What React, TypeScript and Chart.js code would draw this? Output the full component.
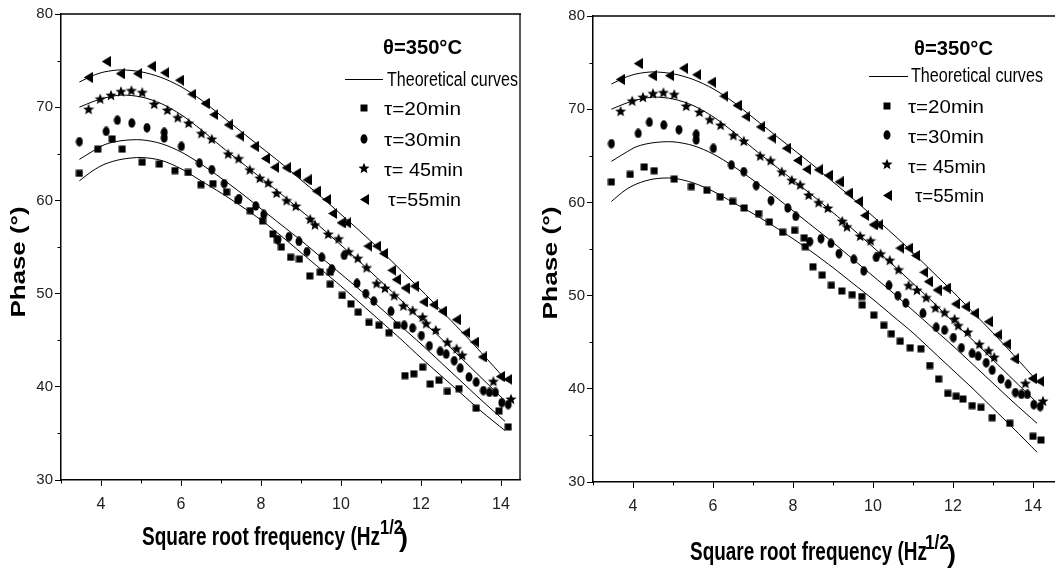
import React, { useEffect, useRef } from 'react';
import { Chart, registerables } from 'chart.js';

Chart.register(...registerables);

// ---------- data ----------
const X_TICKS = [4, 6, 8, 10, 12, 14];
const X_MINOR = [3, 5, 7, 9, 11, 13];
const Y_TICKS = [30, 40, 50, 60, 70, 80];
const Y_MINOR = [35, 45, 55, 65, 75];

const SERIES_LABELS = ['τ=20min', 'τ=30min', 'τ= 45min', 'τ=55min'];
const TEMP_LABEL = 'θ=350°C';
const CURVE_LABEL = 'Theoretical curves';
const X_TITLE = 'Square root frequency (Hz';
const X_TITLE_SUP = '1/2';
const Y_TITLE = 'Phase (°)';

const TAU20_LEFT = [[3.46,62.9],[3.92,65.5],[4.28,66.6],[4.53,65.5],[5.03,64.1],[5.46,63.9],[5.85,63.2],[6.18,63.0],[6.5,61.7],[6.8,61.8],[7.14,60.9],[7.42,60.0],[7.73,58.9],[8.04,57.8],[8.3,56.4],[8.41,55.8],[8.51,55.0],[8.74,53.9],[8.96,53.7],[9.22,51.9],[9.48,52.3],[9.73,52.3],[9.73,51.0],[10.03,49.8],[10.25,48.9],[10.43,48.0],[10.7,46.9],[10.95,46.6],[11.2,45.8],[11.4,46.6],[11.6,41.2],[11.82,41.4],[12.04,42.1],[12.23,40.3],[12.45,40.7],[12.66,39.5],[12.95,39.8],[13.38,37.7],[13.95,37.4],[14.18,35.7]];
const TAU20_RIGHT = [[3.46,62.2],[3.93,63.0],[4.28,63.8],[4.53,63.4],[5.03,62.5],[5.46,61.7],[5.85,61.3],[6.18,60.6],[6.49,60.1],[6.78,59.4],[7.14,58.8],[7.41,57.9],[7.74,56.8],[8.04,57.0],[8.28,56.2],[8.31,55.25],[8.5,53.1],[8.73,52.2],[8.96,51.1],[9.22,50.5],[9.48,50.1],[9.72,49.9],[9.73,49.0],[10.02,47.9],[10.27,46.8],[10.46,45.9],[10.68,45.1],[10.93,44.4],[11.2,44.3],[11.42,42.5],[11.64,41.05],[11.87,39.5],[12.08,39.2],[12.25,38.9],[12.48,38.2],[12.7,38.0],[12.98,36.9],[13.42,36.3],[14.0,34.9],[14.2,34.5]];
const TAU30 = [[3.46,66.3],[4.13,67.4],[4.41,68.6],[4.77,68.3],[5.15,67.8],[5.58,67.3],[5.58,66.7],[6.01,65.8],[6.46,64.0],[6.77,63.3],[7.08,61.8],[7.45,60.2],[7.87,59.4],[8.07,58.5],[8.42,55.8],[8.70,56.1],[8.95,55.6],[9.15,54.5],[9.52,53.9],[9.77,52.65],[10.08,54.1],[10.4,51.1],[10.62,50.0],[10.82,49.2],[11.25,48.1],[11.58,46.6],[11.79,46.3],[12.01,45.5],[12.21,44.4],[12.48,43.8],[12.63,43.5],[12.83,42.8],[12.98,42.0],[13.2,41.05],[13.38,40.5],[13.56,39.6],[13.71,39.4],[13.86,39.4],[14.02,38.3],[14.18,38.1]];
const TAU45 = [[3.69,69.8],[3.98,70.9],[4.25,71.3],[4.5,71.7],[4.76,71.8],[5.03,71.6],[5.33,70.35],[5.66,69.7],[5.92,68.9],[6.19,68.3],[6.51,67.2],[6.77,66.6],[7.18,65.0],[7.44,64.5],[7.72,63.3],[7.97,62.4],[8.18,61.9],[8.39,60.8],[8.64,60.0],[8.87,59.4],[9.23,58.0],[9.35,57.4],[9.68,56.4],[9.94,55.9],[10.19,54.5],[10.42,53.8],[10.64,52.8],[10.89,51.1],[11.1,50.6],[11.33,49.8],[11.56,48.7],[11.79,48.2],[12.04,47.5],[12.13,46.8],[12.37,46.1],[12.66,44.8],[12.89,44.1],[13.03,43.4],[13.81,40.6],[14.25,38.7]];
const TAU55 = [[3.68,73.2],[4.13,74.9],[4.48,73.6],[4.91,73.6],[5.26,74.4],[5.59,73.7],[5.96,72.9],[6.27,71.4],[6.6,70.4],[6.82,69.2],[7.18,68.1],[7.47,66.9],[7.83,65.8],[8.11,64.5],[8.34,63.55],[8.63,63.5],[8.88,62.9],[9.15,62.2],[9.38,61.0],[9.64,60.1],[9.79,58.6],[10.0,57.6],[10.14,57.6],[10.67,55.1],[10.89,55.1],[11.06,54.3],[11.27,52.5],[11.38,51.5],[11.6,50.6],[11.83,50.8],[12.06,49.1],[12.31,48.8],[12.53,48.1],[12.88,47.2],[13.12,45.8],[13.34,44.8],[13.53,43.2],[13.98,41.1],[14.17,40.8]];

const CURVE20_LEFT = [[3.46,62.1],[3.8,63.2],[4.1,63.9],[4.5,64.4],[5.0,64.6],[5.5,64.3],[6.0,63.4],[6.5,62.1],[7.0,60.8],[7.5,59.4],[8.0,57.9],[8.5,56.2],[9.0,54.4],[9.5,52.6],[10.0,50.8],[10.5,48.9],[11.0,47.0],[11.5,45.1],[12.0,43.1],[12.5,41.2],[13.0,39.3],[13.5,37.4],[14.1,35.3]];
const CURVE20_RIGHT = [[3.46,60.1],[3.8,61.3],[4.1,62.0],[4.5,62.5],[5.0,62.6],[5.5,62.1],[6.0,61.2],[6.5,60.0],[7.0,58.8],[7.5,57.5],[8.0,56.1],[8.5,54.6],[9.0,53.0],[9.5,51.3],[10.0,49.6],[10.5,47.8],[11.0,46.0],[11.5,44.0],[12.0,42.0],[12.5,40.0],[13.0,37.9],[13.5,35.8],[14.1,33.2]];
const CURVE30 = [[3.46,64.4],[3.8,65.3],[4.1,66.0],[4.5,66.4],[5.0,66.5],[5.5,66.1],[6.0,65.2],[6.5,63.9],[7.0,62.4],[7.5,60.8],[8.0,59.1],[8.5,57.4],[9.0,55.7],[9.5,53.9],[10.0,52.1],[10.5,50.3],[11.0,48.4],[11.5,46.5],[12.0,44.6],[12.5,42.6],[13.0,40.6],[13.5,38.6],[14.1,36.3]];
const CURVE45 = [[3.46,70.0],[3.8,70.6],[4.1,71.0],[4.5,71.3],[5.0,71.1],[5.5,70.4],[6.0,69.2],[6.5,67.6],[7.0,65.8],[7.5,64.1],[8.0,62.4],[8.5,60.7],[9.0,58.9],[9.5,57.1],[10.0,55.2],[10.5,53.3],[11.0,51.3],[11.5,49.3],[12.0,47.2],[12.5,45.2],[13.0,43.1],[13.5,41.0],[14.1,38.5]];
const CURVE55 = [[3.46,72.7],[3.8,73.4],[4.1,73.8],[4.5,74.0],[5.0,73.8],[5.5,73.2],[6.0,72.2],[6.5,70.8],[7.0,69.1],[7.5,67.4],[8.0,65.7],[8.5,64.0],[9.0,62.2],[9.5,60.4],[10.0,58.5],[10.5,56.6],[11.0,54.6],[11.5,52.5],[12.0,50.4],[12.5,48.2],[13.0,46.0],[13.5,43.7],[14.15,40.6]];

// ---------- helpers ----------
const FONT = '"Liberation Sans", Arial, Helvetica, sans-serif';

function makeMarker(kind: string): HTMLCanvasElement {
  const c = document.createElement('canvas');
  const dims: any = { square: [8, 8], circle: [8, 10], star: [12, 12], tri: [9, 11] };
  const [w, h] = dims[kind];
  c.width = w; c.height = h;
  const g = c.getContext('2d')!;
  g.fillStyle = '#000';
  g.beginPath();
  if (kind === 'square') {
    g.rect(0.5, 0.5, w - 1, h - 1);
  } else if (kind === 'circle') {
    g.ellipse(w / 2, h / 2, w / 2 - 0.5, h / 2 - 0.3, 0, 0, Math.PI * 2);
  } else if (kind === 'star') {
    const cx = w / 2, cy = h / 2 + 0.5, R = 5.8, r = 2.6;
    for (let i = 0; i < 10; i++) {
      const a = -Math.PI / 2 + (i * Math.PI) / 5;
      const rad = i % 2 === 0 ? R : r;
      const px = cx + rad * Math.cos(a), py = cy + rad * Math.sin(a);
      if (i === 0) g.moveTo(px, py); else g.lineTo(px, py);
    }
    g.closePath();
  } else {
    g.moveTo(0, h / 2);
    g.lineTo(w, 0);
    g.lineTo(w, h);
    g.closePath();
  }
  g.fill();
  return c;
}

function fitText(ctx: CanvasRenderingContext2D, text: string, x: number, y: number, font: string, width: number, align = 'left') {
  ctx.save();
  ctx.font = font;
  ctx.textAlign = 'left';
  ctx.textBaseline = 'alphabetic';
  ctx.fillStyle = '#000';
  const m = ctx.measureText(text).width || 1;
  const s = width / m;
  ctx.translate(x, y);
  ctx.scale(s, 1);
  const ox = align === 'center' ? -m / 2 : 0;
  ctx.fillText(text, ox, 0);
  ctx.restore();
}

const toXY = (arr: number[][]) => arr.map(([x, y]) => ({ x, y }));

type PanelCfg = {
  offset: number; width: number; top: number; bottom: number; yAxisW: number; padRight: number; xMax: number;
  tau20: number[][]; curve20: number[][];
  theta: [number, number, number]; line: [number, number, number]; curveText: [number, number, number];
  markerX: number; markerY: number[]; textX: number[]; textBase: number[]; textW: number[];
  xTitle: [number, number, number]; sup: [number, number, number]; paren: [number, number];
  yTitle: [number, number, number];
  rightFrame: boolean;
};

const LEFT: PanelCfg = {
  offset: 0, width: 530, top: 14, bottom: 480, yAxisW: 61, padRight: 10, xMax: 14.475,
  tau20: TAU20_LEFT, curve20: CURVE20_LEFT,
  theta: [383, 54, 79], line: [345, 383, 79], curveText: [387, 86, 131],
  markerX: 364, markerY: [108, 139, 168, 199], textX: [384, 384, 384, 388], textBase: [115, 146, 176, 206], textW: [77, 77, 79, 73],
  xTitle: [142, 545, 238], sup: [380, 534, 23], paren: [399, 547],
  yTitle: [25, 262, 111],
  rightFrame: true,
};

const RIGHT: PanelCfg = {
  offset: 530, width: 540, top: 16, bottom: 482, yAxisW: 63, padRight: 13, xMax: 14.6,
  tau20: TAU20_RIGHT, curve20: CURVE20_RIGHT,
  theta: [914, 55, 79], line: [869, 908, 76], curveText: [911, 82, 132],
  markerX: 887, markerY: [106, 135, 164, 195], textX: [908, 908, 908, 915], textBase: [113, 143, 173, 202], textW: [76, 76, 78, 69],
  xTitle: [690, 560, 237], sup: [925, 549, 24], paren: [947, 563],
  yTitle: [557, 263, 113],
  rightFrame: false,
};

function Panel({ cfg }: { cfg: PanelCfg }) {
  const ref = useRef<HTMLCanvasElement | null>(null);

  useEffect(() => {
    const canvas = ref.current!;
    const markers = [makeMarker('square'), makeMarker('circle'), makeMarker('star'), makeMarker('tri')];
    const pointSets = [cfg.tau20, TAU30, TAU45, TAU55];
    const curveSets = [cfg.curve20, CURVE30, CURVE45, CURVE55];
    const o = cfg.offset;

    const datasets: any[] = [];
    curveSets.forEach((c, i) => {
      datasets.push({
        label: 'curve' + i, data: toXY(c), showLine: true, borderColor: '#000', borderWidth: 1,
        pointRadius: 0, tension: 0.3, fill: false,
      });
    });
    pointSets.forEach((p, i) => {
      datasets.push({
        label: SERIES_LABELS[i], data: toXY(p), showLine: false, pointStyle: markers[i],
        pointRadius: 4, backgroundColor: '#000', borderColor: '#000',
      });
    });

    const deco = {
      id: 'deco',
      afterDraw(chart: any) {
        const ctx: CanvasRenderingContext2D = chart.ctx;
        const a = chart.chartArea;
        const xs = chart.scales.x, ys = chart.scales.y;
        ctx.save();
        ctx.strokeStyle = '#000';
        ctx.lineWidth = 1.3;
        ctx.beginPath();
        ctx.moveTo(a.left, a.top);
        ctx.lineTo(a.right + 1, a.top);
        if (cfg.rightFrame) { ctx.moveTo(a.right, a.top); ctx.lineTo(a.right, a.bottom); }
        ctx.stroke();
        // minor ticks
        ctx.lineWidth = 1;
        ctx.beginPath();
        X_MINOR.forEach((v) => {
          const px = Math.round(xs.getPixelForValue(v)) + 0.5;
          ctx.moveTo(px, a.bottom); ctx.lineTo(px, a.bottom + 3.5);
        });
        Y_MINOR.forEach((v) => {
          const py = Math.round(ys.getPixelForValue(v)) + 0.5;
          ctx.moveTo(a.left, py); ctx.lineTo(a.left - 3.5, py);
        });
        ctx.stroke();
        // legend
        fitText(ctx, TEMP_LABEL, cfg.theta[0] - o, cfg.theta[1], `bold 20px ${FONT}`, cfg.theta[2]);
        ctx.beginPath();
        ctx.lineWidth = 1;
        ctx.moveTo(cfg.line[0] - o, cfg.line[2] + 0.5);
        ctx.lineTo(cfg.line[1] - o, cfg.line[2] + 0.5);
        ctx.stroke();
        fitText(ctx, CURVE_LABEL, cfg.curveText[0] - o, cfg.curveText[1], `20px ${FONT}`, cfg.curveText[2]);
        markers.forEach((m, i) => {
          ctx.drawImage(m, Math.round(cfg.markerX - o - m.width / 2), Math.round(cfg.markerY[i] - m.height / 2));
          fitText(ctx, SERIES_LABELS[i], cfg.textX[i] - o, cfg.textBase[i], `19px ${FONT}`, cfg.textW[i]);
        });
        // axis titles
        fitText(ctx, X_TITLE, cfg.xTitle[0] - o, cfg.xTitle[1], `bold 25px ${FONT}`, cfg.xTitle[2]);
        fitText(ctx, X_TITLE_SUP, cfg.sup[0] - o, cfg.sup[1], `bold 21px ${FONT}`, cfg.sup[2]);
        fitText(ctx, ')', cfg.paren[0] - o, cfg.paren[1], `bold 25px ${FONT}`, 9);
        ctx.save();
        ctx.translate(cfg.yTitle[0] - o, cfg.yTitle[1]);
        ctx.rotate(-Math.PI / 2);
        fitText(ctx, Y_TITLE, 0, 0, `bold 21px ${FONT}`, cfg.yTitle[2], 'center');
        ctx.restore();
        ctx.restore();
      },
    };

    const chart = new Chart(canvas, {
      type: 'scatter',
      data: { datasets },
      options: {
        responsive: false,
        animation: false,
        devicePixelRatio: 1,
        layout: { padding: { top: cfg.top, left: 0, right: cfg.padRight, bottom: 0 } },
        plugins: { legend: { display: false }, tooltip: { enabled: false }, title: { display: false } },
        scales: {
          x: {
            type: 'linear', min: 3, max: cfg.xMax,
            afterBuildTicks: (s: any) => { s.ticks = X_TICKS.map((v) => ({ value: v })); },
            afterFit: (s: any) => { s.height = 571 - cfg.bottom; },
            ticks: { font: { family: FONT, size: 16 }, color: '#222', padding: 9, maxRotation: 0, autoSkip: false },
            grid: { display: true, drawOnChartArea: false, drawTicks: true, tickLength: 6, color: '#000', lineWidth: 1 },
            border: { display: true, color: '#000', width: 1.5 },
          },
          y: {
            type: 'linear', min: 30, max: 80,
            afterBuildTicks: (s: any) => { s.ticks = Y_TICKS.map((v) => ({ value: v })); },
            afterFit: (s: any) => { s.width = cfg.yAxisW; },
            ticks: { font: { family: FONT, size: 15 }, color: '#222', padding: 2 },
            grid: { display: true, drawOnChartArea: false, drawTicks: true, tickLength: 6, color: '#000', lineWidth: 1 },
            border: { display: true, color: '#000', width: 1.5 },
          },
        },
      } as any,
      plugins: [deco],
    });
    return () => chart.destroy();
  }, [cfg]);

  return (
    <canvas
      ref={ref}
      width={cfg.width}
      height={571}
      style={{ position: 'absolute', left: cfg.offset, top: 0, width: cfg.width, height: 571 }}
    />
  );
}

export default function App() {
  return (
    <div style={{ position: 'fixed', left: 0, top: 0, width: 1055, height: 571, overflow: 'hidden', background: '#fff' }}>
      <Panel cfg={LEFT} />
      <Panel cfg={RIGHT} />
    </div>
  );
}
